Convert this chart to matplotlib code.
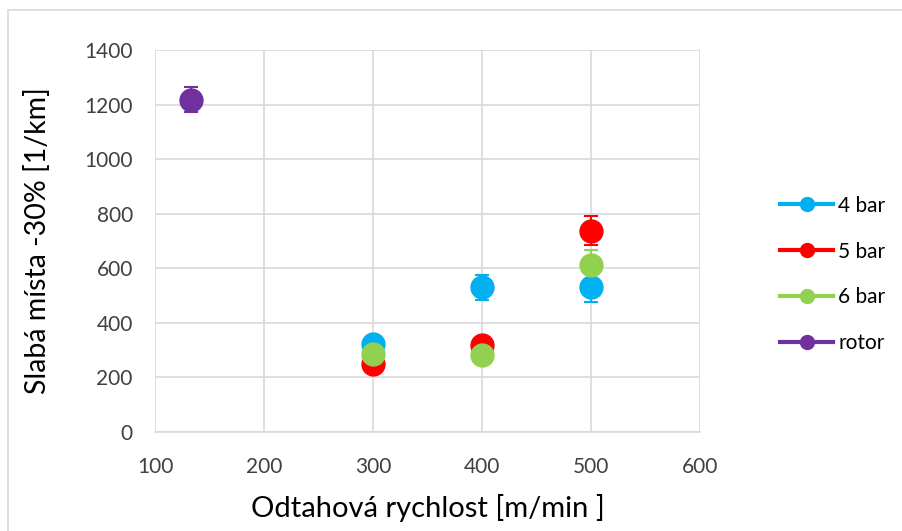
import matplotlib
matplotlib.use("Agg")
import matplotlib.pyplot as plt
from matplotlib.lines import Line2D

plt.rcParams['font.family'] = ['Lato', 'DejaVu Sans']

series = ["4 bar", "5 bar", "6 bar", "rotor"]
colors = ["#00B0F0", "#FF0000", "#92D050", "#7030A0"]
x_vals = [[300, 400, 500], [300, 400, 500], [300, 400, 500], [133]]
y_vals = [[322, 530, 531], [249, 320, 737], [285, 282, 612], [1218]]
y_err = [[10, 45, 56], [10, 10, 53], [10, 10, 55], [47]]

xticks = [100, 200, 300, 400, 500, 600]
yticks = [0, 200, 400, 600, 800, 1000, 1200, 1400]

fig = plt.figure(figsize=(9.03, 5.31), dpi=100)
ax = fig.add_axes([155/903, 1-432/531, 545/903, 382/531])

for name, c, xs, ys, es in zip(series, colors, x_vals, y_vals, y_err):
    ax.errorbar(xs, ys, yerr=es, fmt='o', color=c, ecolor=c, markersize=16.5,
                capsize=5, elinewidth=1.5, capthick=1.5, zorder=3)

ax.set_xlim(100, 600)
ax.set_ylim(0, 1400)
ax.set_xticks(xticks)
ax.set_yticks(yticks)
ax.grid(True, color="#D9D9D9", linewidth=1.2, zorder=0)
ax.set_axisbelow(True)
for s in ['top', 'right', 'left']:
    ax.spines[s].set_visible(False)
ax.spines['bottom'].set_color("#D9D9D9")
ax.spines['bottom'].set_linewidth(1.2)
ax.tick_params(length=0, labelsize=15, colors="#404040")
ax.tick_params(axis='x', pad=18)
ax.tick_params(axis='y', pad=16)
for lab in ax.get_xticklabels() + ax.get_yticklabels():
    lab.set_color("#404040")
ax.set_xlabel("Odtahová rychlost [m/min ]", fontsize=21, labelpad=12)
ax.set_ylabel("Slabá místa -30% [1/km]", fontsize=20.5, labelpad=24)

handles = [Line2D([0], [0], color=c, lw=3, marker='o', markersize=10) for c in colors]
fig.legend(handles, series, loc='center left', bbox_to_anchor=(780/903, 1-274.5/531),
           frameon=False, fontsize=15, handlelength=2.55, handletextpad=0.25,
           labelspacing=1.24, borderpad=0, borderaxespad=0)

fig.add_artist(Line2D([8/903, 8/903], [0, 1-10/531], transform=fig.transFigure,
                      color="#D9D9D9", lw=1.2))
fig.add_artist(Line2D([8/903, 1], [1-10/531, 1-10/531], transform=fig.transFigure,
                      color="#D9D9D9", lw=1.2))

fig.savefig("out.png", dpi=100)
